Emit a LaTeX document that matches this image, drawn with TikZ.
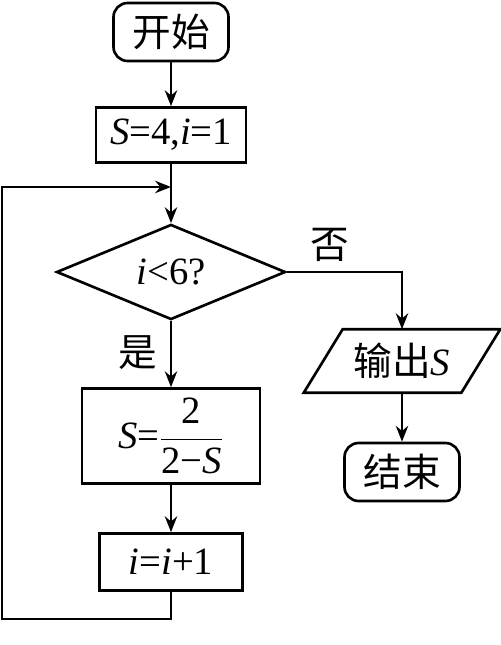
\documentclass[tikz,border=0pt]{standalone}
\usepackage{fontspec}
\setmainfont{Liberation Serif}
\newfontfamily\cjk{Noto Sans CJK SC}
\usetikzlibrary{shapes.geometric,arrows.meta}

\tikzset{
  base/.style={draw, line width=1.5pt, inner sep=0pt, font=\fontsize{22}{26}\selectfont},
  terminal/.style={base, rounded corners=8pt, minimum width=2.3cm, minimum height=1.16cm},
  process/.style={base, rectangle},
  decision/.style={base, diamond, minimum width=4.58cm, minimum height=1.72cm},
  io/.style={base, draw=none, minimum width=3.1cm, minimum height=1.22cm},
  edge/.style={line width=1.5pt},
  flow/.style={edge, -{Stealth[length=9pt,width=7pt]}},
  tag/.style={font=\cjk\fontsize{22}{26}\selectfont}
}

\begin{document}
\begin{tikzpicture}[x=0.02cm, y=-0.02cm]

\useasboundingbox (0,0) rectangle (500,645);

\node [terminal] (start) at (171,32) {\cjk 开始};
\node [process, minimum width=3cm, minimum height=1.1cm] (init) at (171,135) {\textit{S}=4,\textit{i}=1};
\node [decision] (cond) at (171,272) {\textit{i}<6?};
\node [process, minimum width=3.56cm, minimum height=1.9cm] (body) at (171,436)
  {\textit{S}=\(\displaystyle\frac{\mbox{2}}{\mbox{2−\textit{S}}}\)};
\node [process, minimum width=2.86cm, minimum height=1.14cm] (incr) at (171,562) {\textit{i}=\textit{i}+1};
\node [io] (out) at (402,361) {{\cjk 输出}\textit{S}};
\node [terminal] (stop) at (402,472) {\cjk 结束};

\draw [edge] ([xshift=0.39cm]out.north west) -- ([xshift=0.39cm]out.north east)
  -- ([xshift=-0.39cm]out.south east) -- ([xshift=-0.39cm]out.south west) -- cycle;

\coordinate (back) at (2,619);
\coordinate (join) at (171,187);

\draw [flow] (start) -- (init);
\draw [flow] (init) -- (cond);
\draw [flow] (cond) -- (body);
\draw [flow] (body) -- (incr);
\draw [flow] (cond.east) -| (out);
\draw [flow] (out) -- (stop);
\draw [flow] (incr.south) |- (back) |- (join);

\node [tag] (no) at (330,245) {否};
\node [tag] (yes) at (138,353) {是};

\end{tikzpicture}
\end{document}
